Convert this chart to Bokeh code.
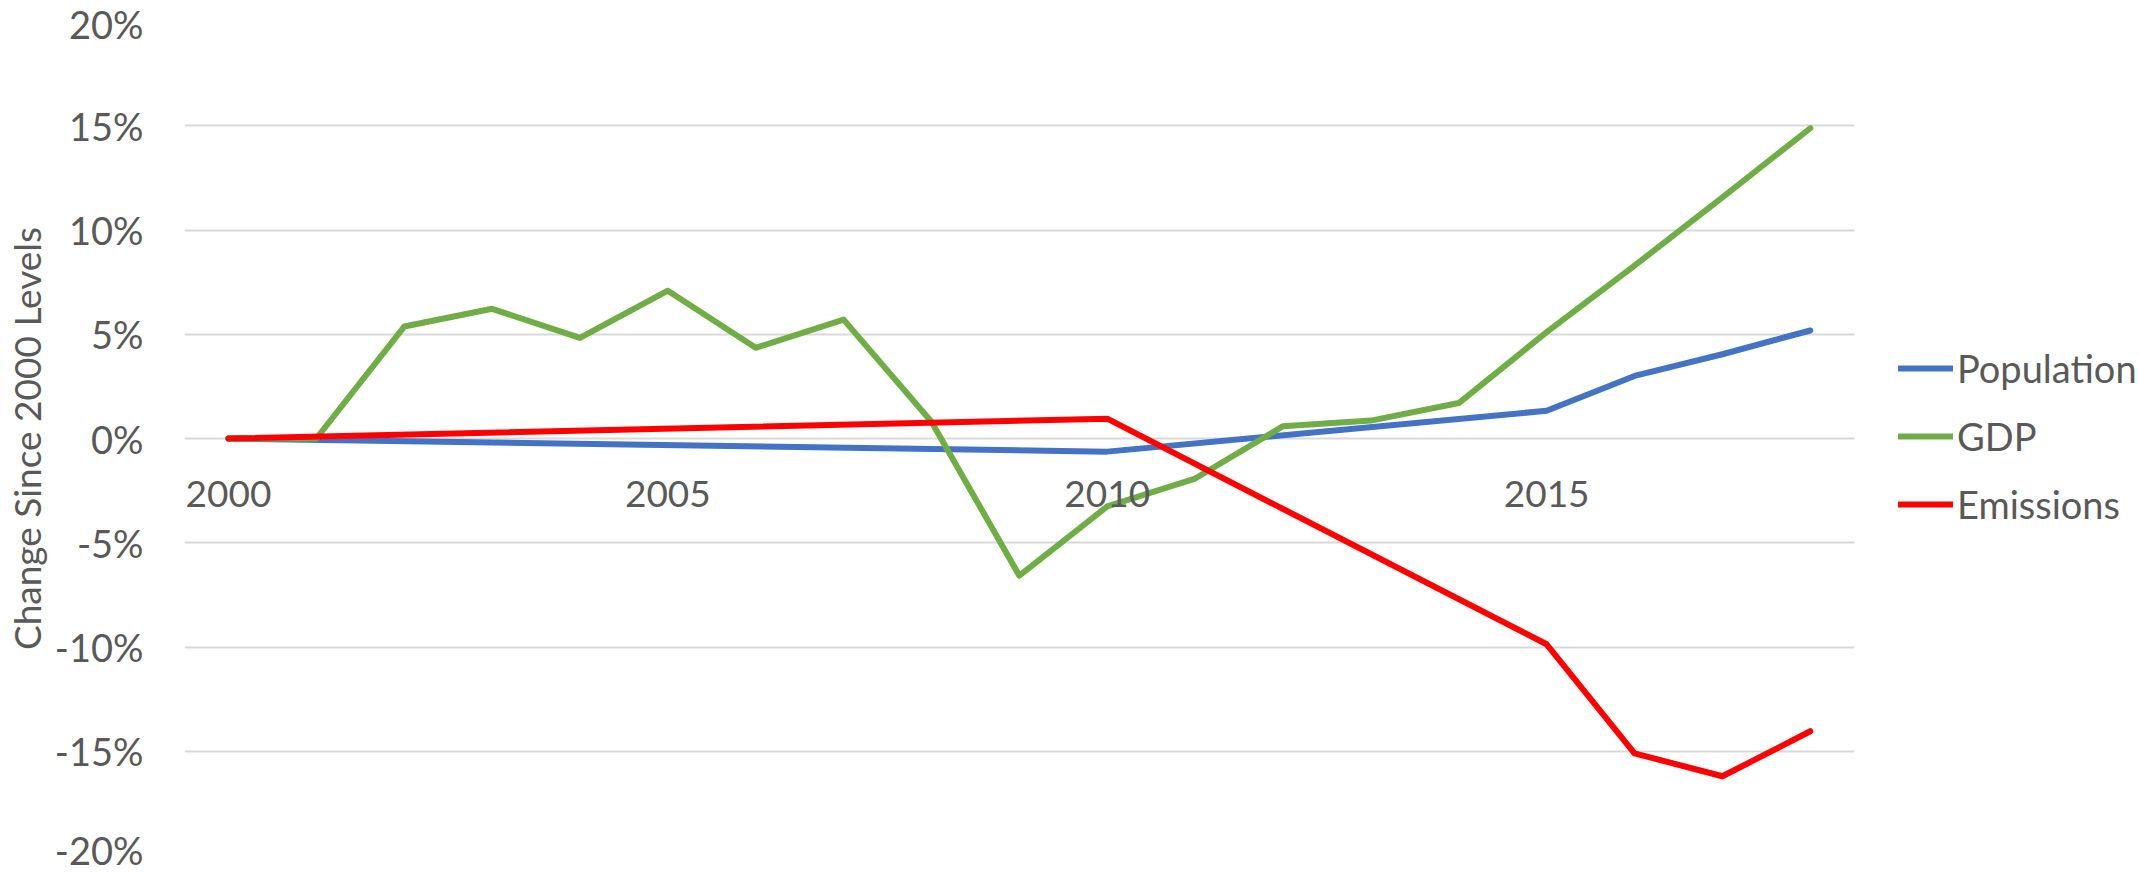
from bokeh.plotting import figure
from bokeh.models import Range1d, FixedTicker, PrintfTickFormatter, Legend, LegendItem
from bokeh.embed import file_html
from bokeh.resources import INLINE

# ---- data (percent change since 2000) ----
years = [2000, 2001, 2002, 2003, 2004, 2005, 2006, 2007, 2008, 2009,
         2010, 2011, 2012, 2013, 2014, 2015, 2016, 2017, 2018]
population = [0.0, None, None, None, None, None, None, None, None, None,
              -0.63, None, None, None, None, 1.33, 3.0, 4.04, 5.18]
gdp = [0.0, 0.0, 5.37, 6.22, 4.83, 7.09, 4.35, 5.70, 0.8, -6.58,
       -3.26, -1.92, 0.59, 0.86, 1.70, 5.10, 8.29, 11.57, 14.88]
emissions = [0.0, None, None, None, None, None, None, None, None, None,
             0.95, None, None, None, None, -9.87, -15.1, -16.2, -14.04]

series_names = ["Population", "GDP", "Emissions"]
series_colors = ["#4472C4", "#70AD47", "#FF0000"]
y_ticks = [-20, -15, -10, -5, 0, 5, 10, 15, 20]
x_ticks = [2000, 2005, 2010, 2015]
y_title = "Change Since 2000 Levels"

FONT = "Lato"
TXT = "#595959"

# plot area spans 1999.5..2018.5; extra room on the right holds the legend
X0, X1 = 1999.5, 2018.5
X_VIEW_END = 2021.746

p = figure(width=2139, height=872, output_backend="svg", toolbar_location=None,
           x_range=Range1d(X0, X_VIEW_END), y_range=Range1d(-20, 20),
           min_border_left=179, min_border_right=0,
           min_border_top=21, min_border_bottom=17)
p.outline_line_color = None
p.background_fill_color = "white"
p.border_fill_color = "white"

# grid
p.xgrid.grid_line_color = None
yg = p.ygrid[0]
yg.ticker = FixedTicker(ticks=y_ticks)
if hasattr(yg, "cross_bounds"):
    yg.cross_bounds = (X0, X1)
    yg.grid_line_color = "#D9D9D9"
    yg.grid_line_width = 2
else:
    yg.grid_line_color = None
    p.segment(x0=[X0] * len(y_ticks), y0=y_ticks, x1=[X1] * len(y_ticks), y1=y_ticks,
              line_color="#D9D9D9", line_width=2, level="underlay")

# y axis
ya = p.yaxis[0]
ya.ticker = FixedTicker(ticks=y_ticks)
ya.formatter = PrintfTickFormatter(format="%d%%")
ya.axis_line_color = None
ya.major_tick_line_color = None
ya.minor_tick_line_color = None
ya.major_tick_out = 0
ya.major_tick_in = 0
ya.major_label_standoff = 41
ya.major_label_text_font = FONT
ya.major_label_text_font_size = "38px"
ya.major_label_text_color = TXT
ya.axis_label = y_title
ya.axis_label_text_font = FONT
ya.axis_label_text_font_size = "37px"
ya.axis_label_text_font_style = "normal"
ya.axis_label_text_color = TXT
ya.axis_label_standoff = 3

# x axis at y = 0
xa = p.xaxis[0]
xa.ticker = FixedTicker(ticks=x_ticks)
xa.fixed_location = 0
xa.axis_line_color = None
xa.major_tick_line_color = None
xa.minor_tick_line_color = None
xa.major_tick_out = 0
xa.major_tick_in = 0
xa.major_label_standoff = 42
xa.major_label_text_font = FONT
xa.major_label_text_font_size = "37px"
xa.major_label_text_color = TXT

items = []
for name, col, vals in zip(series_names, series_colors, [population, gdp, emissions]):
    xs = [yr for yr, v in zip(years, vals) if v is not None]
    ys = [v for v in vals if v is not None]
    r = p.line(xs, ys, line_color=col, line_width=6,
               line_cap="round", line_join="round")
    items.append(LegendItem(label=name, renderers=[r]))

legend = Legend(items=items, location=(1714, 328), margin=0, padding=0,
                border_line_alpha=0, background_fill_alpha=0,
                glyph_width=55, glyph_height=40, label_standoff=4, spacing=22,
                label_text_font=FONT, label_text_font_size="38px",
                label_text_color=TXT)
p.add_layout(legend)

open("out.html", "w").write(file_html(p, INLINE))
